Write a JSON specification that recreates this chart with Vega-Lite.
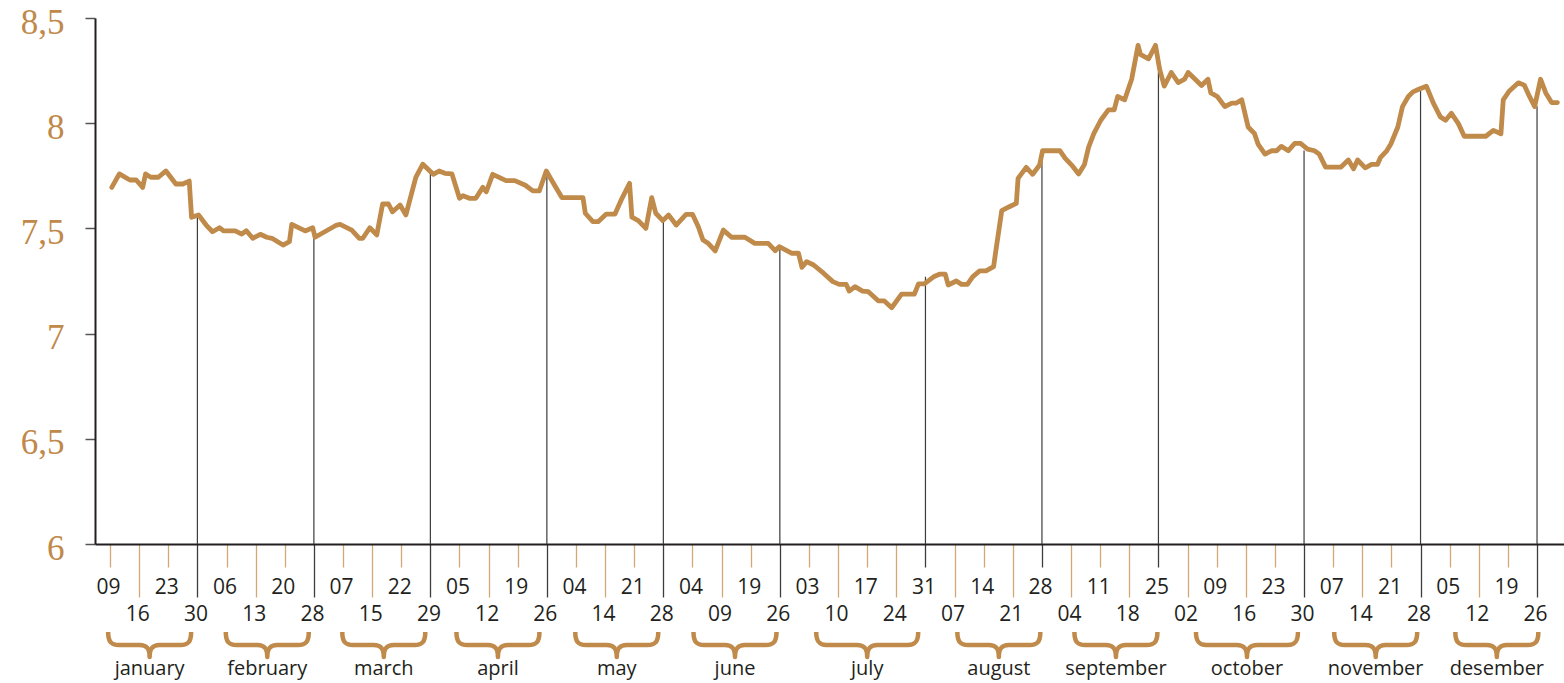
{
  "$schema": "https://vega.github.io/schema/vega-lite/v6.json",
  "width": 1469,
  "height": 526,
  "autosize": "none",
  "padding": {"left": 95, "top": 18, "right": 0, "bottom": 139},
  "background": "white",
  "config": {"view": {"stroke": null}},
  "datasets": {
    "series": [
      {"d":0.3,"v":7.695},{"d":1.6,"v":7.759},{"d":3.4,"v":7.73},{"d":4.5,"v":7.73},{"d":5.6,"v":7.695},{"d":6.1,"v":7.759},{"d":7.0,"v":7.743},{"d":8.3,"v":7.743},{"d":9.6,"v":7.773},{"d":11.3,"v":7.711},{"d":12.5,"v":7.711},{"d":13.6,"v":7.725},{"d":14.0,"v":7.553},{"d":15.2,"v":7.564},{"d":16.5,"v":7.516},{"d":17.6,"v":7.484},{"d":18.8,"v":7.503},{"d":19.5,"v":7.488},{"d":21.5,"v":7.488},{"d":22.6,"v":7.473},{"d":23.4,"v":7.489},{"d":24.5,"v":7.453},{"d":25.8,"v":7.472},{"d":26.9,"v":7.458},{"d":27.8,"v":7.453},{"d":29.7,"v":7.421},{"d":30.8,"v":7.437},{"d":31.2,"v":7.519},{"d":33.5,"v":7.488},{"d":34.8,"v":7.503},{"d":35.2,"v":7.458},{"d":38.9,"v":7.516},{"d":39.5,"v":7.519},{"d":41.5,"v":7.492},{"d":42.8,"v":7.453},{"d":43.4,"v":7.453},{"d":44.6,"v":7.503},{"d":45.8,"v":7.469},{"d":46.8,"v":7.616},{"d":47.8,"v":7.616},{"d":48.5,"v":7.579},{"d":49.8,"v":7.611},{"d":50.8,"v":7.564},{"d":52.5,"v":7.743},{"d":53.7,"v":7.805},{"d":55.5,"v":7.757},{"d":56.5,"v":7.773},{"d":57.5,"v":7.762},{"d":58.7,"v":7.759},{"d":60.0,"v":7.643},{"d":60.6,"v":7.655},{"d":61.7,"v":7.643},{"d":62.8,"v":7.643},{"d":64.0,"v":7.695},{"d":64.6,"v":7.674},{"d":65.7,"v":7.757},{"d":68.0,"v":7.727},{"d":69.5,"v":7.727},{"d":71.3,"v":7.705},{"d":72.6,"v":7.678},{"d":73.7,"v":7.678},{"d":74.9,"v":7.773},{"d":76.3,"v":7.706},{"d":77.6,"v":7.646},{"d":81.2,"v":7.646},{"d":81.6,"v":7.572},{"d":82.9,"v":7.532},{"d":83.8,"v":7.532},{"d":85.2,"v":7.568},{"d":86.7,"v":7.568},{"d":87.9,"v":7.643},{"d":89.2,"v":7.714},{"d":89.6,"v":7.553},{"d":90.7,"v":7.537},{"d":92.0,"v":7.5},{"d":93.0,"v":7.646},{"d":93.7,"v":7.572},{"d":94.9,"v":7.537},{"d":95.9,"v":7.564},{"d":97.2,"v":7.516},{"d":98.9,"v":7.567},{"d":100.0,"v":7.567},{"d":101.0,"v":7.508},{"d":101.8,"v":7.445},{"d":102.7,"v":7.429},{"d":103.9,"v":7.393},{"d":105.3,"v":7.492},{"d":106.7,"v":7.458},{"d":109.0,"v":7.458},{"d":110.7,"v":7.429},{"d":113.0,"v":7.429},{"d":114.2,"v":7.394},{"d":114.9,"v":7.413},{"d":117.0,"v":7.382},{"d":118.2,"v":7.382},{"d":118.8,"v":7.315},{"d":119.6,"v":7.342},{"d":120.8,"v":7.326},{"d":122.5,"v":7.287},{"d":124.1,"v":7.247},{"d":125.2,"v":7.234},{"d":126.4,"v":7.234},{"d":126.9,"v":7.202},{"d":127.9,"v":7.223},{"d":129.2,"v":7.202},{"d":130.2,"v":7.199},{"d":131.9,"v":7.156},{"d":132.9,"v":7.156},{"d":134.2,"v":7.123},{"d":135.9,"v":7.188},{"d":138.1,"v":7.188},{"d":138.8,"v":7.236},{"d":139.8,"v":7.236},{"d":141.4,"v":7.27},{"d":142.5,"v":7.283},{"d":143.4,"v":7.283},{"d":143.9,"v":7.231},{"d":145.3,"v":7.25},{"d":146.2,"v":7.234},{"d":147.2,"v":7.234},{"d":148.1,"v":7.27},{"d":149.3,"v":7.298},{"d":150.4,"v":7.298},{"d":151.7,"v":7.318},{"d":152.1,"v":7.397},{"d":153.1,"v":7.584},{"d":154.4,"v":7.603},{"d":155.6,"v":7.619},{"d":155.9,"v":7.738},{"d":157.3,"v":7.79},{"d":158.4,"v":7.757},{"d":159.6,"v":7.801},{"d":160.1,"v":7.869},{"d":163.1,"v":7.869},{"d":164.0,"v":7.833},{"d":165.1,"v":7.801},{"d":166.3,"v":7.759},{"d":167.3,"v":7.804},{"d":168.0,"v":7.885},{"d":168.9,"v":7.95},{"d":170.1,"v":8.014},{"d":171.4,"v":8.063},{"d":172.4,"v":8.063},{"d":173.0,"v":8.127},{"d":174.2,"v":8.111},{"d":175.4,"v":8.209},{"d":176.5,"v":8.37},{"d":176.9,"v":8.327},{"d":178.3,"v":8.306},{"d":179.5,"v":8.37},{"d":180.2,"v":8.257},{"d":181.0,"v":8.176},{"d":182.2,"v":8.241},{"d":183.4,"v":8.193},{"d":184.5,"v":8.209},{"d":185.1,"v":8.241},{"d":186.3,"v":8.209},{"d":187.4,"v":8.179},{"d":188.5,"v":8.209},{"d":189.0,"v":8.144},{"d":190.1,"v":8.127},{"d":191.4,"v":8.079},{"d":192.6,"v":8.095},{"d":193.3,"v":8.095},{"d":194.3,"v":8.111},{"d":195.4,"v":7.982},{"d":196.5,"v":7.95},{"d":197.1,"v":7.901},{"d":198.3,"v":7.853},{"d":199.4,"v":7.869},{"d":200.3,"v":7.869},{"d":201.1,"v":7.89},{"d":202.3,"v":7.869},{"d":203.4,"v":7.904},{"d":204.4,"v":7.904},{"d":205.6,"v":7.877},{"d":206.8,"v":7.869},{"d":207.6,"v":7.853},{"d":208.7,"v":7.791},{"d":211.3,"v":7.791},{"d":212.6,"v":7.825},{"d":213.5,"v":7.783},{"d":214.2,"v":7.825},{"d":215.5,"v":7.788},{"d":216.6,"v":7.804},{"d":217.6,"v":7.804},{"d":218.1,"v":7.836},{"d":219.2,"v":7.869},{"d":219.9,"v":7.901},{"d":221.1,"v":7.982},{"d":221.9,"v":8.079},{"d":222.9,"v":8.127},{"d":223.7,"v":8.149},{"d":224.6,"v":8.16},{"d":226.0,"v":8.176},{"d":227.2,"v":8.095},{"d":228.4,"v":8.03},{"d":229.3,"v":8.014},{"d":230.3,"v":8.047},{"d":231.5,"v":7.998},{"d":232.5,"v":7.938},{"d":236.2,"v":7.938},{"d":237.5,"v":7.966},{"d":238.8,"v":7.95},{"d":239.2,"v":8.111},{"d":240.2,"v":8.152},{"d":241.8,"v":8.192},{"d":242.8,"v":8.181},{"d":243.7,"v":8.127},{"d":244.6,"v":8.079},{"d":245.6,"v":8.209},{"d":246.5,"v":8.144},{"d":247.5,"v":8.098},{"d":248.5,"v":8.098}
    ],
    "ends": [
      {"d":15,"v":7.56},{"d":35,"v":7.455},{"d":55,"v":7.763},{"d":75,"v":7.773},{"d":95,"v":7.53},{"d":115,"v":7.41},{"d":140,"v":7.27},{"d":160,"v":7.86},{"d":180,"v":8.245},{"d":205,"v":7.87},{"d":225,"v":8.155},{"d":245,"v":8.08}
    ],
    "months": [
      {"month":"january","d":6.8,"weeks":4},
      {"month":"february","d":27.0,"weeks":4},
      {"month":"march","d":47.0,"weeks":4},
      {"month":"april","d":66.6,"weeks":4},
      {"month":"may","d":87.0,"weeks":4},
      {"month":"june","d":107.3,"weeks":4},
      {"month":"july","d":130.0,"weeks":5},
      {"month":"august","d":152.6,"weeks":4},
      {"month":"september","d":172.7,"weeks":4},
      {"month":"october","d":195.2,"weeks":5},
      {"month":"november","d":217.3,"weeks":4},
      {"month":"desember","d":238.1,"weeks":4}
    ]
  },
  "encoding": {
    "x": {
      "field": "d", "type": "quantitative",
      "scale": {"domain": [-2.58, 249.63], "nice": false, "zero": false},
      "axis": {
        "title": null, "grid": false,
        "values": [0,5,10,15,20,25,30,35,40,45,50,55,60,65,70,75,80,85,90,95,100,105,110,115,120,125,130,135,140,145,150,155,160,165,170,175,180,185,190,195,200,205,210,215,220,225,230,235,240,245],
        "labelExpr": "['09','16','23','30','06','13','20','28','07','15','22','29','05','12','19','26','04','14','21','28','04','09','19','26','03','10','17','24','31','07','14','21','28','04','11','18','25','02','09','16','23','30','07','14','21','28','05','12','19','26'][round(datum.value/5)]",
        "domainColor": "#231f20", "domainWidth": 2,
        "tickWidth": 1.3,
        "tickColor": {"condition": {"test": "indexof([15,35,55,75,95,115,140,160,180,205,225,245], datum.value) >= 0", "value": "#3c3c3c"}, "value": "#d2a877"},
        "tickSize": {"condition": {"test": "round(datum.value/5) % 2 == 1", "value": 53}, "value": 23},
        "labelPadding": {"condition": {"test": "round(datum.value/5) % 2 == 1", "value": 6}, "value": 9},
        "labelFont": "Open Sans", "labelFontSize": 21, "labelColor": "#231f20",
        "labelOverlap": false, "labelFlush": false, "labelBound": false, "labelAngle": 0, "labelOffset": -2
      }
    },
    "y": {
      "field": "v", "type": "quantitative",
      "scale": {"domain": [6, 8.5], "nice": false, "zero": false},
      "axis": {
        "title": null, "grid": false,
        "values": [6, 6.5, 7, 7.5, 8, 8.5],
        "labelExpr": "replace(format(datum.value, '~g'), '.', ',')",
        "domainColor": "#231f20", "domainWidth": 2,
        "tickColor": "#555555", "tickWidth": 1.5, "tickSize": 10,
        "labelFont": "Liberation Serif", "labelFontSize": 35, "labelColor": "#c0894a",
        "labelPadding": 21, "labelOffset": 4, "labelBaseline": "middle", "labelFlush": false, "labelBound": false
      }
    }
  },
  "layer": [
    {
      "data": {"name": "ends"},
      "mark": {"type": "rule", "color": "#3c3c3c", "strokeWidth": 1.2},
      "encoding": {
        "y2": {"datum": 6}
      }
    },
    {
      "data": {"name": "series"},
      "mark": {"type": "line", "color": "#bf8a4a", "strokeWidth": 4.8, "strokeJoin": "round", "strokeCap": "round"}
    },
    {
      "data": {"name": "months"},
      "mark": {"type": "point", "filled": false, "stroke": "#bf8a4a", "strokeWidth": 4.5, "opacity": 1, "strokeCap": "butt", "strokeJoin": "round"},
      "encoding": {
        "y": {"value": 627},
        "shape": {"field": "weeks", "type": "ordinal", "legend": null, "scale": {"domain": [4, 5], "range": ["M -1 -0.313 C -1 -0.08 -0.93 0 -0.74 0 L -0.24 0 C -0.07 0 0 0.08 0 0.289 C 0 0.08 0.07 0 0.24 0 L 0.74 0 C 0.93 0 1 -0.08 1 -0.313", "M -1 -0.255 C -1 -0.065 -0.94 0 -0.8 0 L -0.2 0 C -0.06 0 0 0.065 0 0.235 C 0 0.065 0.06 0 0.2 0 L 0.8 0 C 0.94 0 1 -0.065 1 -0.255"]}},
        "size": {"field": "weeks", "type": "ordinal", "legend": null, "scale": {"domain": [4, 5], "range": [6889, 10404]}}
      }
    },
    {
      "data": {"name": "months"},
      "mark": {"type": "text", "font": "Open Sans", "fontSize": 20, "color": "#231f20", "align": "center", "baseline": "alphabetic"},
      "encoding": {
        "y": {"value": 657},
        "text": {"field": "month"}
      }
    }
  ]
}
